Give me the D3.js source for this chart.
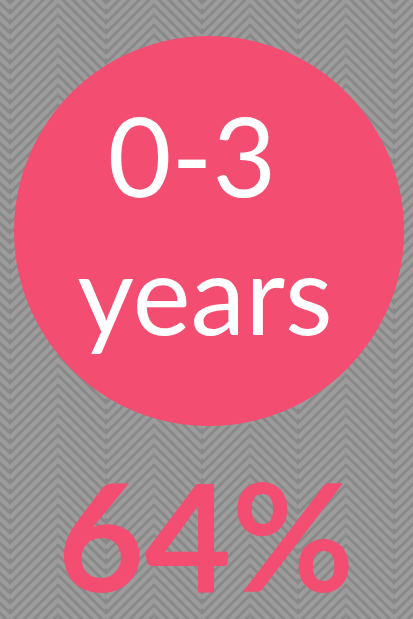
<!DOCTYPE html>
<html>
<head>
<meta charset="utf-8">
<script src="https://cdn.jsdelivr.net/npm/d3@7"></script>
<style>
  html, body { margin: 0; padding: 0; background: #8a8a8a; }
  svg { display: block; }
</style>
</head>
<body>
<svg id="chart" width="413" height="619"></svg>
<script>
const categoryLines = ["0-3", "years"];
const values = [64];
const valueLabels = ["64%"];

const W = 413, H = 619;
const svg = d3.select("#chart");

// background zigzag pattern
const defs = svg.append("defs");
const pat = defs.append("pattern")
  .attr("id", "zig").attr("patternUnits", "userSpaceOnUse")
  .attr("x", 10).attr("y", 0)
  .attr("width", 96).attr("height", 10);
pat.append("rect").attr("width", 96).attr("height", 10).attr("fill", "#898989");
const zigLine = d3.line();
d3.range(-60, 30, 10).forEach(o => {
  pat.append("path")
    .attr("d", zigLine([[0, o + 48], [48, o], [96, o + 48]]))
    .attr("fill", "none").attr("stroke", "#9c9c9c").attr("stroke-width", 4.2);
});
svg.append("rect").attr("width", W).attr("height", H).attr("fill", "url(#zig)");

const r = d3.scaleSqrt().domain([0, 64]).range([0, 195]);
const cx = 209, cy = 231;

svg.append("circle").data(values)
  .attr("cx", cx).attr("cy", cy).attr("r", d => r(d))
  .attr("fill", "#f44d72");

const font = "Lato, 'Open Sans', sans-serif";
svg.append("text").text(categoryLines[0])
  .attr("x", 192).attr("y", 197)
  .attr("text-anchor", "middle").attr("font-family", font)
  .attr("font-size", 110).attr("fill", "#ffffff");
svg.append("text").text(categoryLines[1])
  .attr("x", 205).attr("y", 335)
  .attr("text-anchor", "middle").attr("font-family", font)
  .attr("font-size", 110).attr("fill", "#ffffff");

svg.append("text").text(valueLabels[0])
  .attr("x", 206).attr("y", 592)
  .attr("text-anchor", "middle").attr("font-family", font)
  .attr("font-weight", 700)
  .attr("font-size", 150).attr("fill", "#f44d72");
</script>
</body>
</html>
